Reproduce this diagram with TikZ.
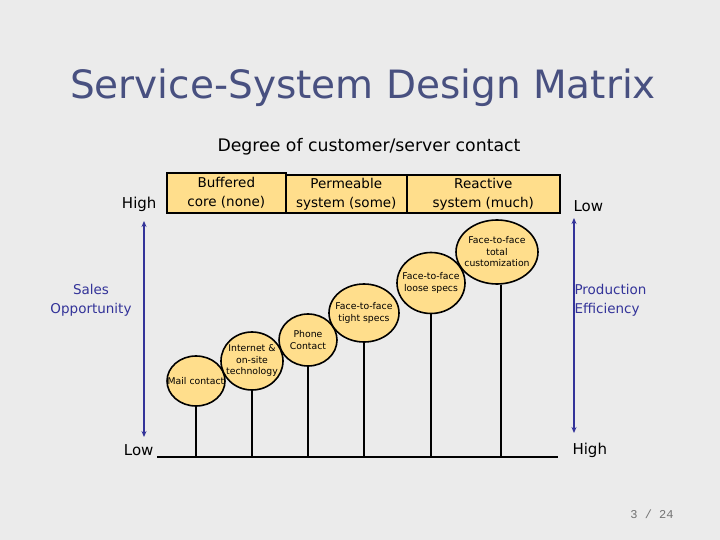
\documentclass[tikz,border=0pt]{standalone}
\usepackage{fontspec}
\setmainfont{DejaVu Sans}
\newfontfamily\pagefont{Liberation Mono}
\usetikzlibrary{arrows.meta,positioning,shapes.geometric}
\definecolor{slidebg}{RGB}{235,235,235}
\definecolor{titleblue}{RGB}{72,80,128}
\definecolor{axisblue}{RGB}{51,51,153}
\definecolor{modeyellow}{RGB}{255,222,140}

\begin{document}
\begin{tikzpicture}[x=1pt,y=-1pt,
  hdr/.style={rectangle,draw=black,line width=1.6pt,fill=modeyellow,anchor=north west,
              inner sep=1pt,font=\fontsize{13.5}{19}\selectfont,align=center},
  mode/.style={ellipse,draw=black,line width=1.6pt,fill=modeyellow,inner sep=0pt},
  modetext/.style={font=\fontsize{9.3}{11.5}\selectfont,align=center,inner sep=0pt},
  stem/.style={line width=1.6pt},
  axis/.style={{Stealth[length=6pt,width=5pt]}-{Stealth[length=6pt,width=5pt]},
               draw=axisblue,line width=1.3pt},
  lbl/.style={font=\fontsize{15}{19}\selectfont},
  side/.style={font=\fontsize{13.5}{19}\selectfont,text=axisblue}
]
  \fill[slidebg] (0,0) rectangle (720,540);

  % title and heading
  \node[font=\fontsize{39}{44}\selectfont,text=titleblue] (title) at (363,88) {Service-System Design Matrix};
  \node[font=\fontsize{17.3}{19}\selectfont] (degree) at (369,147) {Degree of customer/server contact};

  % header boxes
  \node[hdr,minimum width=119pt,minimum height=40pt] (buffered) at (166,172) {Buffered\\core (none)};
  \node[hdr,minimum width=121pt,minimum height=38pt] (permeable) at (285,174) {Permeable\\system (some)};
  \node[hdr,minimum width=153pt,minimum height=38pt] (reactive) at (406,174) {Reactive\\system (much)};

  % axis labels
  \node[lbl,anchor=east] (highL) at (160,204) {High};
  \node[lbl,anchor=east] (lowL) at (157,450) {Low};
  \node[lbl,anchor=west] (lowR) at (570,206) {Low};
  \node[lbl,anchor=west] (highR) at (569,450) {High};
  \node[side,align=center] (sales) at (91,300.5) {Sales\\Opportunity};
  \node[side,align=left,anchor=west] (prod) at (571,300.5) {Production\\Efficiency};

  \coordinate (salesTop) at (144,221);
  \coordinate (salesBot) at (144,437);
  \coordinate (prodTop) at (574,218);
  \coordinate (prodBot) at (574,433);
  \draw[axis] (salesTop) -- (salesBot);
  \draw[axis] (prodTop) -- (prodBot);

  % baseline
  \coordinate (baseW) at (157,457);
  \coordinate (baseE) at (558,457);
  \draw[stem] (baseW) -- (baseE);

  % contact modes
  \node[mode,minimum width=58pt,minimum height=50pt,label={[modetext]center:Mail contact}] (mail) at (196,381) {};
  \node[mode,minimum width=62pt,minimum height=58pt,label={[modetext]center:Internet \&\\on-site\\technology}] (internet) at (252,361) {};
  \node[mode,minimum width=58pt,minimum height=52pt,label={[modetext]center:Phone\\Contact}] (phone) at (308,340) {};
  \node[mode,minimum width=70pt,minimum height=58pt,label={[modetext]center:Face-to-face\\tight specs}] (tight) at (364,313) {};
  \node[mode,minimum width=68pt,minimum height=61pt,label={[modetext]center:Face-to-face\\loose specs}] (loose) at (431,283) {};
  \node[mode,minimum width=82pt,minimum height=64pt,label={[modetext]center:Face-to-face\\total\\customization}] (total) at (497,252) {};

  \draw[stem] (mail.south) -- (mail.south |- baseW);
  \draw[stem] (internet.south) -- (internet.south |- baseW);
  \draw[stem] (phone.south) -- (phone.south |- baseW);
  \draw[stem] (tight.south) -- (tight.south |- baseW);
  \draw[stem] (loose.south) -- (loose.south |- baseW);
  \draw[stem] ([xshift=4pt]total.south) -- ([xshift=4pt]total.south |- baseW);

  % page number
  \node[font=\pagefont\fontsize{12}{14}\selectfont,text=black!55] (page) at (652,514) {3 / 24};
\end{tikzpicture}
\end{document}
